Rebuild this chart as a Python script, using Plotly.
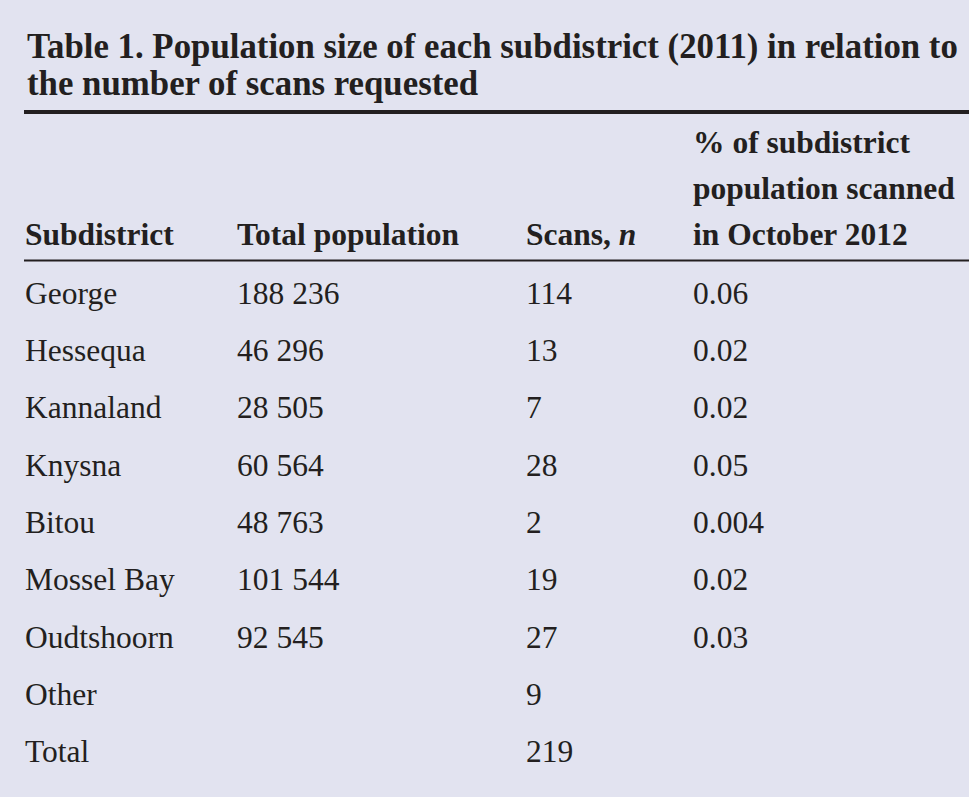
import plotly.graph_objects as go


#################################################
#                                               #
#   Data                                        #
#                                               #
#################################################

title_lines = ["Table 1. Population size of each subdistrict (2011) in relation to",
               "the number of scans requested"]

headers = [["Subdistrict"],
           ["Total population"],
           ["Scans, <i>n</i>"],
           ["% of subdistrict", "population scanned", "in October 2012"]]

subdistricts = ["George", "Hessequa", "Kannaland", "Knysna", "Bitou",
                "Mossel Bay", "Oudtshoorn", "Other", "Total"]

population = [188236, 46296, 28505, 60564, 48763, 101544, 92545, None, None]

scans = [114, 13, 7, 28, 2, 19, 27, 9, 219]

pct_scanned = [0.06, 0.02, 0.02, 0.05, 0.004, 0.02, 0.03, None, None]


#################################################
#                                               #
#   Layout helpers                              #
#                                               #
#################################################

W, H = 969, 797
ink = "#231f20"
bg = "#e2e3f0"
serif = "Liberation Serif, Times New Roman, serif"

col_x = [25, 237, 526, 693]          # left edge of each column (px)
row_px = 57.3                        # row pitch (px)
first_row_px = 296                   # centre of first body row (px)
head_gap = 46 / row_px               # header line pitch in row units
head_last = -1.02                    # last header line, in row units


def fmt_pop(v):
    if v is None:
        return ""
    return f"{v:,}".replace(",", " ")


def fmt_pct(v):
    return "" if v is None else str(v)


columns = [
    subdistricts,
    [fmt_pop(v) for v in population],
    [str(v) for v in scans],
    [fmt_pct(v) for v in pct_scanned],
]

rows = list(range(len(subdistricts)))

fig = go.Figure()

# body cells
for cx, col in zip(col_x, columns):
    fig.add_scatter(
        x=[cx] * len(col),
        y=rows,
        mode="text",
        text=col,
        textposition="middle right",
        textfont=dict(family=serif, size=31.5, color=ink),
        hoverinfo="skip",
        showlegend=False,
    )

# header cells, bottom aligned
for cx, lines in zip(col_x, headers):
    n = len(lines)
    ys = [head_last - head_gap * (n - 1 - i) for i in range(n)]
    fig.add_scatter(
        x=[cx] * n,
        y=ys,
        mode="text",
        text=[f"<b>{t}</b>" for t in lines],
        textposition="middle right",
        textfont=dict(family=serif, size=31.5, color=ink),
        hoverinfo="skip",
        showlegend=False,
    )

# title
for i, t in enumerate(title_lines):
    fig.add_annotation(
        x=25 / W, y=1 - (47 + 36 * i) / H,
        xref="paper", yref="paper",
        xanchor="left", yanchor="middle",
        text=f"<b>{t}</b>",
        showarrow=False,
        font=dict(family=serif, size=34.8, color=ink),
    )

# rules
fig.add_shape(type="line", xref="paper", yref="paper",
              x0=24 / W, x1=1, y0=1 - 112 / H, y1=1 - 112 / H,
              line=dict(color=ink, width=4))
fig.add_shape(type="line", xref="paper", yref="paper",
              x0=24 / W, x1=1, y0=1 - 260.5 / H, y1=1 - 260.5 / H,
              line=dict(color=ink, width=2))

fig.update_xaxes(range=[0, W], visible=False, fixedrange=True)
fig.update_yaxes(range=[(H - first_row_px) / row_px, -first_row_px / row_px],
                 visible=False, fixedrange=True)

fig.update_layout(
    width=W,
    height=H,
    margin=dict(l=0, r=0, t=0, b=0),
    paper_bgcolor=bg,
    plot_bgcolor=bg,
    showlegend=False,
)

fig.write_html(
    "out.html",
    config=dict(displayModeBar=False),
    post_script="document.body.style.margin='0';"
                "document.body.style.background='" + bg + "';",
)
